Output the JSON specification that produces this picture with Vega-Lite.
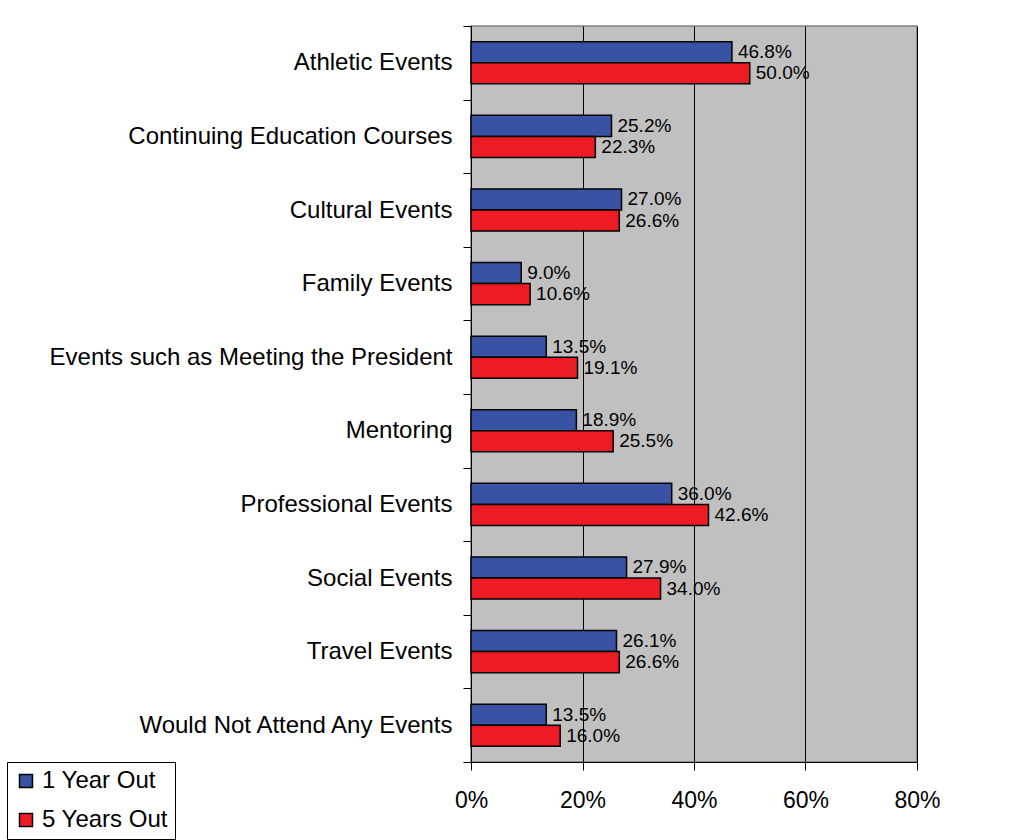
{
  "$schema": "https://vega.github.io/schema/vega-lite/v6.json",
  "width": 446,
  "height": 736,
  "autosize": {"type": "none"},
  "padding": {"left": 471, "top": 26, "right": 100, "bottom": 78},
  "background": "white",
  "data": {
    "values": [
      {"category": "Athletic Events", "series": "1 Year Out", "value": 0.468},
      {"category": "Athletic Events", "series": "5 Years Out", "value": 0.500},
      {"category": "Continuing Education Courses", "series": "1 Year Out", "value": 0.252},
      {"category": "Continuing Education Courses", "series": "5 Years Out", "value": 0.223},
      {"category": "Cultural Events", "series": "1 Year Out", "value": 0.270},
      {"category": "Cultural Events", "series": "5 Years Out", "value": 0.266},
      {"category": "Family Events", "series": "1 Year Out", "value": 0.090},
      {"category": "Family Events", "series": "5 Years Out", "value": 0.106},
      {"category": "Events such as Meeting the President", "series": "1 Year Out", "value": 0.135},
      {"category": "Events such as Meeting the President", "series": "5 Years Out", "value": 0.191},
      {"category": "Mentoring", "series": "1 Year Out", "value": 0.189},
      {"category": "Mentoring", "series": "5 Years Out", "value": 0.255},
      {"category": "Professional Events", "series": "1 Year Out", "value": 0.360},
      {"category": "Professional Events", "series": "5 Years Out", "value": 0.426},
      {"category": "Social Events", "series": "1 Year Out", "value": 0.279},
      {"category": "Social Events", "series": "5 Years Out", "value": 0.340},
      {"category": "Travel Events", "series": "1 Year Out", "value": 0.261},
      {"category": "Travel Events", "series": "5 Years Out", "value": 0.266},
      {"category": "Would Not Attend Any Events", "series": "1 Year Out", "value": 0.135},
      {"category": "Would Not Attend Any Events", "series": "5 Years Out", "value": 0.160}
    ]
  },
  "encoding": {
    "y": {
      "field": "category",
      "type": "nominal",
      "sort": null,
      "title": null,
      "scale": {"paddingInner": 0, "paddingOuter": 0},
      "axis": {
        "tickBand": "extent",
        "tickSize": 8,
        "tickColor": "black",
        "domainColor": "black",
        "labelPadding": 11,
        "labelFontSize": 24,
        "labelFont": "Liberation Sans",
        "labelColor": "black",
        "labelLimit": 500,
        "grid": false
      }
    },
    "yOffset": {
      "field": "series",
      "type": "nominal",
      "scale": {"paddingInner": 0, "paddingOuter": 0.75}
    },
    "x": {
      "field": "value",
      "type": "quantitative",
      "title": null,
      "scale": {"domain": [0, 0.8], "nice": false},
      "axis": {
        "format": "%",
        "values": [0, 0.2, 0.4, 0.6, 0.8],
        "tickSize": 8,
        "tickColor": "black",
        "domainColor": "black",
        "labelPadding": 19,
        "labelFlush": false,
        "labelFontSize": 23,
        "labelFont": "Liberation Sans",
        "labelColor": "black",
        "grid": true,
        "gridColor": "black",
        "gridOpacity": 1
      }
    }
  },
  "layer": [
    {
      "mark": {"type": "bar", "stroke": "black", "strokeWidth": 1.5},
      "encoding": {
        "color": {
          "field": "series",
          "type": "nominal",
          "scale": {"domain": ["1 Year Out", "5 Years Out"], "range": ["#3953A4", "#ED1C24"]},
          "legend": {
            "title": null,
            "orient": "none",
            "legendX": -464,
            "legendY": 736,
            "symbolType": "square",
            "symbolSize": 169,
            "symbolStrokeColor": "black",
            "symbolStrokeWidth": 1.5,
            "symbolOpacity": 1,
            "labelFontSize": 24,
            "labelFont": "Liberation Sans",
            "labelColor": "black",
            "rowPadding": 15,
            "padding": 7,
            "strokeColor": "black",
            "fillColor": "white",
            "labelOffset": 4
          }
        }
      }
    },
    {
      "mark": {
        "type": "text",
        "align": "left",
        "baseline": "middle",
        "dx": 6,
        "fontSize": 19,
        "font": "Liberation Sans",
        "color": "black"
      },
      "encoding": {
        "text": {"field": "value", "type": "quantitative", "format": ".1%"}
      }
    }
  ],
  "config": {
    "view": {"fill": "#C0C0C0", "stroke": "#808080", "strokeWidth": 1.5},
    "axis": {"domainWidth": 1, "tickWidth": 1}
  }
}
